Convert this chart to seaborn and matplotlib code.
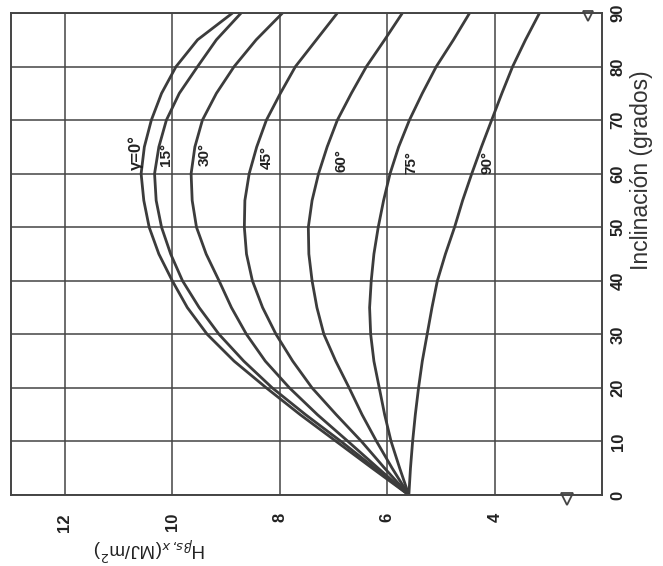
import matplotlib
matplotlib.use("Agg")
import matplotlib.pyplot as plt
import seaborn as sns
import pandas as pd

# inclination (degrees) and H values (MJ/m2) for each azimuth gamma
incl = [0, 5, 10, 15, 20, 25, 30, 35, 40, 45, 50, 55, 60, 65, 70, 75, 80, 85, 90]
h_g0 = [5.6, 6.28, 6.95, 7.62, 8.25, 8.85, 9.35, 9.72, 10.0, 10.25, 10.43, 10.53,
        10.58, 10.52, 10.39, 10.2, 9.93, 9.53, 8.88]
h_g15 = [5.6, 6.23, 6.86, 7.52, 8.14, 8.67, 9.13, 9.5, 9.81, 10.03, 10.2, 10.3,
         10.33, 10.25, 10.11, 9.87, 9.53, 9.18, 8.72]
h_g30 = [5.6, 6.17, 6.73, 7.3, 7.82, 8.27, 8.62, 8.9, 9.13, 9.37, 9.55, 9.63,
         9.65, 9.58, 9.44, 9.18, 8.85, 8.44, 7.95]
h_g45 = [5.6, 6.05, 6.48, 6.95, 7.4, 7.76, 8.07, 8.32, 8.51, 8.62, 8.66, 8.65,
         8.57, 8.43, 8.25, 7.99, 7.71, 7.32, 6.93]
h_g60 = [5.6, 5.91, 6.2, 6.47, 6.71, 6.96, 7.18, 7.31, 7.4, 7.46, 7.47, 7.4,
         7.28, 7.12, 6.93, 6.67, 6.39, 6.05, 5.72]
h_g75 = [5.6, 5.77, 5.93, 6.05, 6.15, 6.25, 6.31, 6.33, 6.3, 6.25, 6.17, 6.07,
         5.95, 5.79, 5.59, 5.35, 5.09, 4.77, 4.47]
h_g90 = [5.6, 5.57, 5.53, 5.48, 5.42, 5.35, 5.26, 5.17, 5.07, 4.92, 4.75, 4.6,
         4.43, 4.25, 4.06, 3.87, 3.67, 3.43, 3.17]

gammas = ["0", "15", "30", "45", "60", "75", "90"]
curve_labels = ["\u03b3=0\u00b0", "15\u00b0", "30\u00b0", "45\u00b0", "60\u00b0", "75\u00b0", "90\u00b0"]
# label anchor points (H, inclination)
label_h = [10.67, 10.11, 9.40, 8.25, 6.86, 5.55, 4.14]
label_b = [64, 63.5, 63.5, 63, 62.5, 62, 62]

h_ticks = [12, 10, 8, 6, 4]
b_ticks = [0, 10, 20, 30, 40, 50, 60, 70, 80, 90]

df = pd.DataFrame({"incl": incl, "0": h_g0, "15": h_g15, "30": h_g30, "45": h_g45,
                   "60": h_g60, "75": h_g75, "90": h_g90})
long = df.melt(id_vars="incl", var_name="gamma", value_name="H")

sns.set_style("white")
plt.rcParams["font.family"] = ["Liberation Sans", "DejaVu Sans"]

ink = "#3c3c3c"
fig = plt.figure(figsize=(6.63, 5.66), dpi=100)
ax = fig.add_axes([0.0166, 0.1254, 0.892, 0.8516])

sns.lineplot(data=long, x="H", y="incl", hue="gamma", orient="y", sort=True,
             palette={g: ink for g in gammas}, linewidth=2.0, legend=False, ax=ax)

ax.set_xlim(13, 2)
ax.set_ylim(0, 90)
ax.set_xticks(h_ticks)
ax.set_yticks(b_ticks)
ax.grid(True, color="#444444", linewidth=1.1)
ax.set_axisbelow(True)
for s in ax.spines.values():
    s.set_color("#444444")
    s.set_linewidth(1.4)

ax.yaxis.tick_right()
ax.tick_params(axis="both", length=0, labelsize=12, labelcolor="#222222")
ax.tick_params(axis="x", pad=13)
ax.tick_params(axis="y", pad=6)
for t in ax.get_xticklabels():
    t.set_rotation(90)
    t.set_fontweight("bold")
for t in ax.get_yticklabels():
    t.set_rotation(90)
    t.set_fontweight("bold")
    t.set_va("center")

ax.set_xlabel("")
ax.set_ylabel("")
ax.text(1.066, 0.674, "Inclinaci\u00f3n (grados)", transform=ax.transAxes, rotation=90,
        ha="center", va="center", fontsize=16.5, color="#333333")
ax.text(0.235, -0.11, r"H$_{\beta s,x}$(MJ/m$^2$)", transform=ax.transAxes, rotation=180,
        ha="center", va="center", fontsize=13.5, color="#222222")

for lab, hx, by in zip(curve_labels, label_h, label_b):
    ax.text(hx, by, lab, rotation=90, ha="center", va="center",
            fontsize=12 if lab.startswith("\u03b3") else 11,
            fontweight="bold", color="#222222")

# small notches on the frame
ax.plot([0.94], [-0.008], marker="v", markersize=8, markerfacecolor="white",
        markeredgecolor="#444444", markeredgewidth=1.3, transform=ax.transAxes, clip_on=False)
ax.plot([0.975], [0.993], marker="v", markersize=7, markerfacecolor="white",
        markeredgecolor="#444444", markeredgewidth=1.3, transform=ax.transAxes, clip_on=False)

fig.savefig("out.png", dpi=100, facecolor="white")
